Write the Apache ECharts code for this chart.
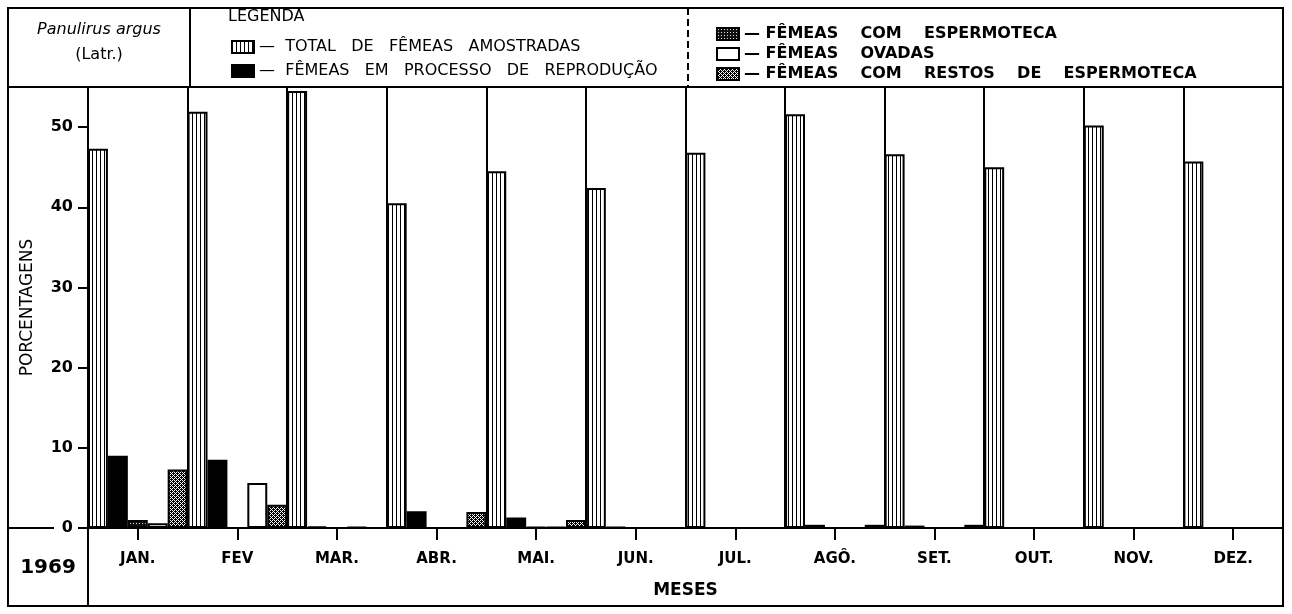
<!DOCTYPE html>
<html>
<head>
<meta charset="utf-8">
<script src="https://cdn.jsdelivr.net/npm/echarts@6/dist/echarts.min.js"></script>
<style>
html, body { margin: 0; padding: 0; background: #fff; }
#main { width: 1292px; height: 614px; }
</style>
</head>
<body>
<div id="main"></div>
<script>
// dados (porcentagens, 1969)
const meses = ['JAN.', 'FEV', 'MAR.', 'ABR.', 'MAI.', 'JUN.', 'JUL.', 'AGÔ.', 'SET.', 'OUT.', 'NOV.', 'DEZ.']
const totalFemeas = [47.3, 51.9, 54.5, 40.5, 44.5, 42.4, 46.8, 51.6, 46.6, 45.0, 50.2, 45.7]
const emReproducao = [9.0, 8.5, 0.2, 2.1, 1.3, 0.1, 0, 0.4, 0.3, 0, 0, 0]
const comEspermoteca = [1.0, 0, 0, 0, 0.1, 0, 0, 0, 0, 0, 0, 0]
const ovadas = [0.6, 5.6, 0.1, 0, 0.1, 0, 0, 0, 0, 0, 0, 0]
const comRestos = [7.3, 2.9, 0, 2.0, 1.0, 0, 0, 0.4, 0.4, 0, 0, 0]
const yTicks = [0, 10, 20, 30, 40, 50]

const fonte = '"DejaVu Sans", sans-serif'

// hachuras das barras
function makePattern (w, h, draw) {
  const c = document.createElement('canvas')
  c.width = w
  c.height = h
  draw(c.getContext('2d'))
  return { image: c, repeat: 'repeat' }
}
const listras = makePattern(4, 4, (ctx) => {
  ctx.fillStyle = '#fff'
  ctx.fillRect(0, 0, 4, 4)
  ctx.fillStyle = '#000'
  ctx.fillRect(0, 0, 1, 4)
})
const grade = makePattern(3, 3, (ctx) => {
  ctx.fillStyle = '#111'
  ctx.fillRect(0, 0, 3, 3)
  ctx.fillStyle = '#ddd'
  ctx.fillRect(1, 1, 1, 1)
})
const pontilhado = makePattern(4, 4, (ctx) => {
  ctx.fillStyle = '#000'
  ctx.fillRect(0, 0, 4, 4)
  ctx.fillStyle = '#fff'
  for (let x = 0; x < 4; x++) {
    for (let y = 0; y < 4; y++) {
      if ((x + y) % 4 === 0 || (x - y + 4) % 4 === 2) ctx.fillRect(x, y, 1, 1)
    }
  }
})

const barra = (name, data, color) => ({
  name,
  type: 'bar',
  data,
  barGap: '0%',
  barCategoryGap: '0%',
  itemStyle: { color, borderColor: '#000', borderWidth: 2 },
  emphasis: { disabled: true }
})

const linha = (x1, y1, x2, y2, dash) => ({
  type: 'line',
  shape: { x1, y1, x2, y2 },
  style: { stroke: '#000', lineWidth: 2, lineDash: dash || null },
  silent: true
})

const texto = (x, y, text, extra) => ({
  type: 'text',
  x,
  y,
  style: Object.assign({ text, fill: '#000', font: 'bold 15px ' + fonte, align: 'center', verticalAlign: 'middle' }, extra || {}),
  silent: true
})

const legendaTexto = {
  color: '#000',
  fontFamily: fonte,
  fontSize: 16
}

const option = {
  animation: false,
  backgroundColor: '#fff',
  grid: { left: 88, right: 9, top: 87, bottom: 86, containLabel: false, outerBoundsMode: 'none' },
  legend: [
    {
      data: ['TOTAL DE FÊMEAS AMOSTRADAS', 'FÊMEAS EM PROCESSO DE REPRODUÇÃO'],
      orient: 'vertical',
      left: 226,
      top: 34,
      itemGap: 8,
      itemWidth: 22,
      itemHeight: 12,
      icon: 'rect',
      selectedMode: false,
      formatter: (n) => '—  ' + n.split(' ').join('   '),
      textStyle: legendaTexto
    },
    {
      data: ['FÊMEAS COM ESPERMOTECA', 'FÊMEAS OVADAS', 'FÊMEAS COM RESTOS DE ESPERMOTECA'],
      orient: 'vertical',
      left: 711,
      top: 21,
      itemGap: 4,
      itemWidth: 22,
      itemHeight: 12,
      icon: 'rect',
      selectedMode: false,
      formatter: (n) => '— ' + n.split(' ').join('    '),
      textStyle: Object.assign({}, legendaTexto, { fontWeight: 'bold' })
    }
  ],
  xAxis: {
    type: 'category',
    data: meses,
    name: 'MESES',
    nameLocation: 'middle',
    nameGap: 54,
    nameTextStyle: { color: '#000', fontFamily: fonte, fontWeight: 'bold', fontSize: 17 },
    axisLine: { lineStyle: { color: '#000', width: 2 } },
    axisTick: { show: true, interval: 0, alignWithLabel: true, length: 12, lineStyle: { color: '#000', width: 2 } },
    axisLabel: { interval: 0, margin: 24, color: '#000', fontFamily: fonte, fontWeight: 'bold', fontSize: 15 },
    splitLine: { show: true, interval: 0, lineStyle: { color: '#000', width: 2 } }
  },
  yAxis: {
    type: 'value',
    min: 0,
    max: 55,
    interval: 10,
    name: 'PORCENTAGENS',
    nameLocation: 'middle',
    nameRotate: 90,
    nameGap: 52,
    nameTextStyle: { color: '#000', fontFamily: fonte, fontSize: 17 },
    axisLine: { show: true, lineStyle: { color: '#000', width: 2 } },
    axisTick: { show: true, length: 10, lineStyle: { color: '#000', width: 2 } },
    axisLabel: {
      margin: 15,
      color: '#000',
      fontFamily: fonte,
      fontWeight: 'bold',
      fontSize: 16,
      formatter: (v) => (yTicks.includes(v) ? String(v) : '')
    },
    splitLine: { show: false }
  },
  series: [
    barra('TOTAL DE FÊMEAS AMOSTRADAS', totalFemeas, listras),
    barra('FÊMEAS EM PROCESSO DE REPRODUÇÃO', emReproducao, '#000'),
    barra('FÊMEAS COM ESPERMOTECA', comEspermoteca, grade),
    barra('FÊMEAS OVADAS', ovadas, '#fff'),
    barra('FÊMEAS COM RESTOS DE ESPERMOTECA', comRestos, pontilhado)
  ],
  graphic: [
    {
      type: 'rect',
      shape: { x: 8, y: 8, width: 1275, height: 598 },
      style: { fill: null, stroke: '#000', lineWidth: 2 },
      silent: true
    },
    linha(8, 87, 1283, 87),
    linha(190, 8, 190, 87),
    linha(688, 8, 688, 87, [7, 4]),
    linha(88, 528, 88, 606),
    linha(8, 528, 54, 528),
    texto(99, 30, 'Panulirus argus', { font: 'italic 16px ' + fonte }),
    texto(99, 55, '(Latr.)', { font: '16px ' + fonte }),
    texto(228, 17, 'LEGENDA', { font: '16px ' + fonte, align: 'left' }),
    texto(48, 568, '1969', { font: 'bold 20px ' + fonte })
  ]
}

const chart = echarts.init(document.getElementById('main'))
chart.setOption(option)
</script>
</body>
</html>
